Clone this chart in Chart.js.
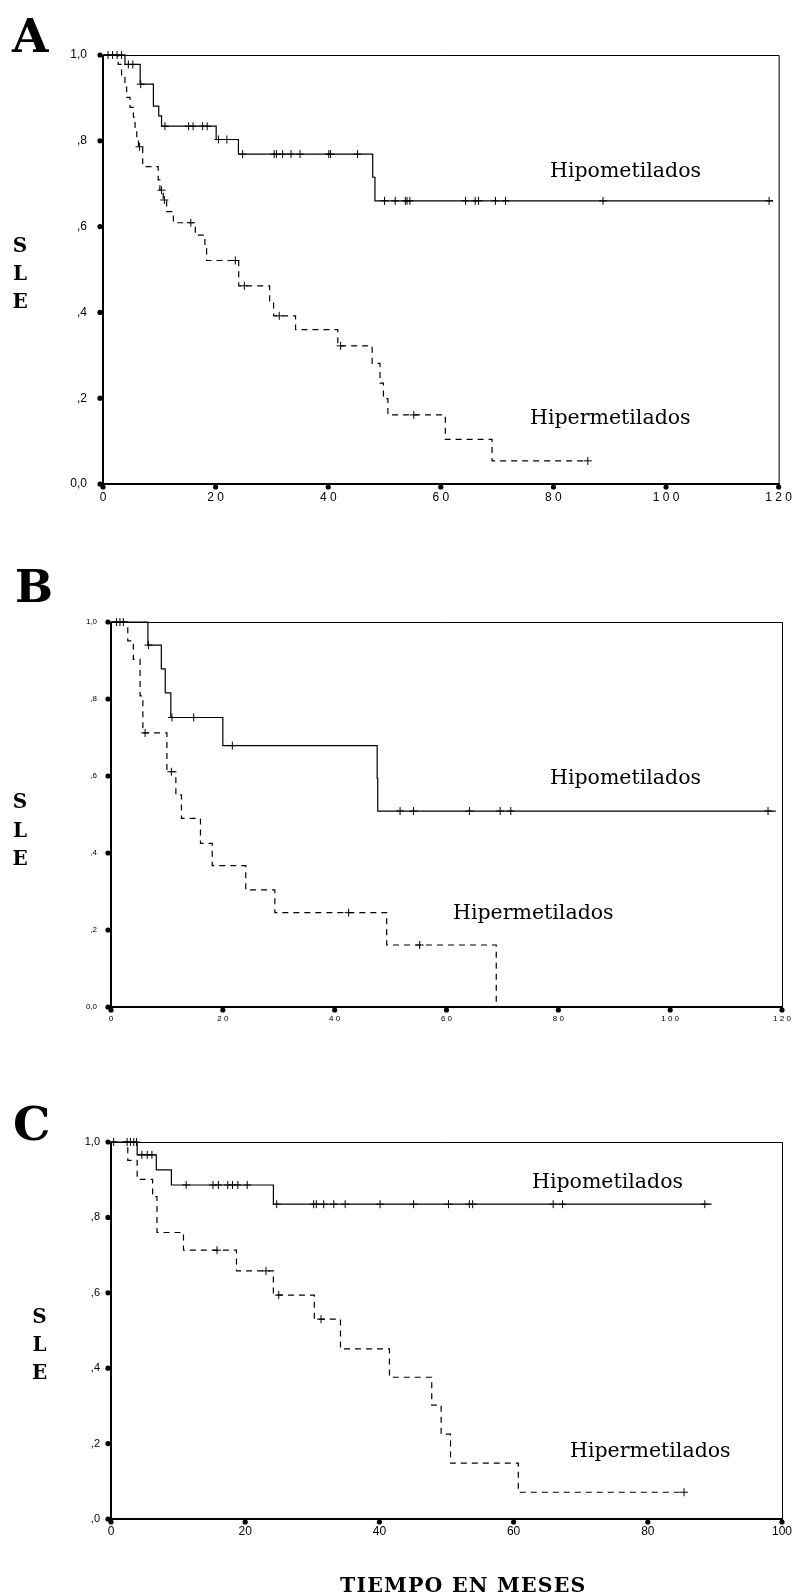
<!DOCTYPE html>
<html>
<head>
<meta charset="utf-8">
<script src="https://cdn.jsdelivr.net/npm/chart.js@4.4.1/dist/chart.umd.min.js"></script>
<style>
html,body{margin:0;padding:0;background:#fff;width:798px;height:1596px;overflow:hidden}
.p{position:absolute;left:0;width:798px;height:532px}
canvas{display:block}
</style>
</head>
<body>
<div class="p" style="top:0"><canvas id="cA" width="798" height="532"></canvas></div>
<div class="p" style="top:532px"><canvas id="cB" width="798" height="532"></canvas></div>
<div class="p" style="top:1064px"><canvas id="cC" width="798" height="532"></canvas></div>
<script>
// ---------- DATA (months, survival) ----------
// Panel A
const aHipoT   = [3.9, 6.6, 8.95, 9.9, 10.4, 20.1, 24.05, 47.9, 48.3];
const aHipoS   = [0.978, 0.932, 0.881, 0.858, 0.834, 0.803, 0.769, 0.715, 0.660];
const aHipoEnd = 119;
const aHipoCens = [0.9, 1.7, 2.5, 3.3, 4.5, 5.3, 6.7, 11.0, 15.2, 16.0, 17.7, 18.5, 20.5, 22.0, 24.8,
                   30.4, 30.8, 31.9, 33.4, 35.0, 40.1, 40.4, 45.2, 50.0, 51.9, 53.7, 54.0, 54.5,
                   64.4, 66.1, 66.7, 69.7, 71.5, 88.8, 118.3];
const aHiperT  = [2.7, 3.3, 3.9, 4.2, 4.8, 5.4, 5.7, 6.0, 6.3, 7.05, 9.8, 10.1, 10.7, 11.3, 12.5,
                  16.4, 18.1, 18.4, 24.1, 29.6, 30.3, 34.2, 41.7, 47.8, 49.2, 49.8, 50.6, 60.8, 69.1];
const aHiperS  = [0.978, 0.951, 0.925, 0.901, 0.878, 0.855, 0.831, 0.808, 0.786, 0.740, 0.709, 0.685,
                  0.662, 0.635, 0.609, 0.580, 0.549, 0.521, 0.462, 0.427, 0.392, 0.360, 0.322, 0.281,
                  0.235, 0.199, 0.161, 0.104, 0.054];
const aHiperEnd = 86.1;
const aHiperCens = [6.5, 10.4, 10.9, 15.6, 23.5, 25.1, 31.3, 42.2, 55.2, 86.1];

// Panel B
const bHipoT   = [6.6, 9.0, 9.7, 10.7, 20.0, 47.6, 47.7];
const bHipoS   = [0.940, 0.878, 0.816, 0.752, 0.679, 0.594, 0.509];
const bHipoEnd = 118.9;
const bHipoCens = [1.0, 1.6, 2.2, 6.7, 10.9, 14.8, 21.7, 51.7, 54.1, 64.1, 69.6, 71.5, 117.5];
const bHiperT  = [3.0, 4.0, 5.2, 5.7, 10.0, 11.6, 12.6, 16.0, 18.1, 24.1, 29.3, 49.3, 68.9];
const bHiperS  = [0.951, 0.903, 0.808, 0.712, 0.611, 0.551, 0.490, 0.425, 0.367, 0.304, 0.245, 0.161, 0.0];
const bHiperEnd = 68.9;
const bHiperCens = [6.1, 10.8, 42.5, 55.2];

// Panel C
const cHipoT   = [3.9, 6.75, 9.0, 24.2];
const cHipoS   = [0.966, 0.926, 0.886, 0.835];
const cHipoEnd = 89.5;
const cHipoCens = [0.4, 2.4, 2.9, 3.4, 3.8, 4.6, 5.4, 6.1, 11.2, 15.2, 16.0, 17.4, 18.1, 18.9, 20.3,
                   24.7, 30.2, 30.6, 31.7, 33.2, 34.9, 40.1, 45.1, 50.3, 53.4, 53.9, 65.9, 67.3, 88.5];
const cHiperT  = [2.5, 3.9, 6.2, 6.85, 10.8, 18.7, 24.2, 30.3, 34.2, 41.5, 47.8, 49.2, 50.6, 60.7];
const cHiperS  = [0.951, 0.901, 0.855, 0.760, 0.713, 0.658, 0.594, 0.530, 0.451, 0.376, 0.302, 0.225, 0.148, 0.071];
const cHiperEnd = 85.4;
const cHiperCens = [15.8, 23.1, 25.0, 31.3, 85.4];

// Tick labels
const yTicksAB = ['0,0', ',2', ',4', ',6', ',8', '1,0'];
const xTicksAB = ['0', '2 0', '4 0', '6 0', '8 0', '1 0 0', '1 2 0'];
const yTicksC  = [',0', ',2', ',4', ',6', ',8', '1,0'];
const xTicksC  = ['0', '20', '40', '60', '80', '100'];

const seriesNames = ['Hipometilados', 'Hipermetilados'];
const panelNames = ['A', 'B', 'C'];
const yTitle = ['S', 'L', 'E'];
const xTitle = 'TIEMPO EN MESES';

// ---------- helpers ----------
function kmPoints(times, surv, end) {
  const pts = [{x: 0, y: 1}];
  times.forEach((t, i) => pts.push({x: t, y: surv[i]}));
  pts.push({x: end, y: surv[surv.length - 1]});
  return pts;
}
function censPoints(times, surv, cens) {
  return cens.map(c => {
    let s = 1;
    times.forEach((t, i) => { if (t <= c) s = surv[i]; });
    return {x: c, y: s};
  });
}

const framePlugin = {
  id: 'frame',
  afterDatasetsDraw(chart, args, o) {
    const {ctx, chartArea: {left, top, right, bottom}, scales: {x, y}} = chart;
    ctx.save();
    ctx.strokeStyle = '#000';
    ctx.setLineDash([]);
    ctx.lineWidth = 1;
    ctx.beginPath();
    ctx.moveTo(left, top + 0.5); ctx.lineTo(right + 0.5, top + 0.5); ctx.lineTo(right + 0.5, bottom);
    ctx.stroke();
    ctx.lineWidth = 2;
    ctx.beginPath();
    ctx.moveTo(left, top); ctx.lineTo(left, bottom); ctx.lineTo(right + 1, bottom);
    ctx.stroke();
    ctx.fillStyle = '#000';
    y.ticks.forEach((t, i) => {
      ctx.beginPath(); ctx.arc(left - o.off, y.getPixelForTick(i), o.r, 0, Math.PI * 2); ctx.fill();
    });
    x.ticks.forEach((t, i) => {
      ctx.beginPath(); ctx.arc(x.getPixelForTick(i), bottom + o.off, o.r, 0, Math.PI * 2); ctx.fill();
    });
    ctx.restore();
  }
};

const textPlugin = {
  id: 'texts',
  afterDraw(chart, args, o) {
    const ctx = chart.ctx;
    ctx.save();
    ctx.fillStyle = '#000';
    ctx.textBaseline = 'alphabetic';
    (o.items || []).forEach(it => {
      ctx.font = it.font;
      ctx.textAlign = it.align || 'left';
      if ('letterSpacing' in ctx) ctx.letterSpacing = it.ls || '0px';
      ctx.fillText(it.text, it.x, it.y);
    });
    ctx.restore();
  }
};

function makeChart(id, d, L) {
  const hipoLine = {data: kmPoints(d.hipoT, d.hipoS, d.hipoEnd), showLine: true, stepped: 'before',
    borderColor: '#000', borderWidth: 1.2, pointRadius: 0, clip: false, order: 2};
  const hiperLine = {data: kmPoints(d.hiperT, d.hiperS, d.hiperEnd), showLine: true, stepped: 'before',
    borderColor: '#000', borderWidth: 1.2, borderDash: [6, 5], pointRadius: 0, clip: false, order: 2};
  const hipoC = {data: censPoints(d.hipoT, d.hipoS, d.hipoCens), showLine: false, pointStyle: 'cross',
    pointRadius: L.cr, borderColor: '#000', borderWidth: 1, clip: false, order: 1};
  const hiperC = {data: censPoints(d.hiperT, d.hiperS, d.hiperCens), showLine: false, pointStyle: 'cross',
    pointRadius: L.cr, borderColor: '#000', borderWidth: 1, clip: false, order: 1};
  return new Chart(document.getElementById(id), {
    type: 'scatter',
    data: {datasets: [hipoLine, hiperLine, hipoC, hiperC]},
    plugins: [framePlugin, textPlugin],
    options: {
      responsive: false, animation: false, events: [],
      layout: {padding: {left: L.left - 60, top: L.top, right: 798 - L.right, bottom: 532 - L.bottom - 30}},
      plugins: {
        legend: {display: false}, tooltip: {enabled: false},
        frame: {off: L.dotOff, r: L.dotR},
        texts: {items: L.texts}
      },
      scales: {
        x: {type: 'linear', min: 0, max: d.xMax,
          ticks: {stepSize: 20, autoSkip: false, maxRotation: 0, color: '#000', padding: L.xPad,
            font: {family: 'Liberation Sans, Arial, sans-serif', size: L.xFont},
            callback: (v, i) => d.xLabels[i]},
          grid: {display: false, drawTicks: false}, border: {display: false},
          afterFit: s => { s.height = 30; }},
        y: {type: 'linear', min: 0, max: 1,
          ticks: {stepSize: 0.2, autoSkip: false, color: '#000', padding: L.yPad,
            font: {family: 'Liberation Sans, Arial, sans-serif', size: L.yFont},
            callback: (v, i) => d.yLabels[i]},
          grid: {display: false, drawTicks: false}, border: {display: false},
          afterFit: s => { s.width = 60; }}
      }
    }
  });
}

const serif = "'DejaVu Serif', serif";
const labFont = '20.5px ' + serif;
const titleFont = 'bold 20px ' + serif;

makeChart('cA', {hipoT: aHipoT, hipoS: aHipoS, hipoEnd: aHipoEnd, hipoCens: aHipoCens,
  hiperT: aHiperT, hiperS: aHiperS, hiperEnd: aHiperEnd, hiperCens: aHiperCens,
  xMax: 120, xLabels: xTicksAB, yLabels: yTicksAB},
  {left: 103, top: 55, right: 779, bottom: 484, xPad: 6, yPad: 16, xFont: 12, yFont: 12,
   dotOff: 3, dotR: 2.6, cr: 4,
   texts: [
     {text: panelNames[0], x: 12, y: 52, font: 'bold 47px ' + serif},
     {text: yTitle[0], x: 20, y: 252, font: titleFont, align: 'center'},
     {text: yTitle[1], x: 20, y: 280, font: titleFont, align: 'center'},
     {text: yTitle[2], x: 20, y: 308, font: titleFont, align: 'center'},
     {text: seriesNames[0], x: 550, y: 177, font: labFont},
     {text: seriesNames[1], x: 530, y: 424, font: labFont}
   ]});

makeChart('cB', {hipoT: bHipoT, hipoS: bHipoS, hipoEnd: bHipoEnd, hipoCens: bHipoCens,
  hiperT: bHiperT, hiperS: bHiperS, hiperEnd: bHiperEnd, hiperCens: bHiperCens,
  xMax: 120, xLabels: xTicksAB, yLabels: yTicksAB},
  {left: 111, top: 90, right: 782, bottom: 475, xPad: 7, yPad: 14, xFont: 8, yFont: 8,
   dotOff: 3, dotR: 2.6, cr: 4,
   texts: [
     {text: panelNames[1], x: 15, y: 70, font: 'bold 45px ' + serif},
     {text: yTitle[0], x: 20, y: 276, font: titleFont, align: 'center'},
     {text: yTitle[1], x: 20, y: 305, font: titleFont, align: 'center'},
     {text: yTitle[2], x: 20, y: 333, font: titleFont, align: 'center'},
     {text: seriesNames[0], x: 550, y: 252, font: labFont},
     {text: seriesNames[1], x: 453, y: 387, font: labFont}
   ]});

makeChart('cC', {hipoT: cHipoT, hipoS: cHipoS, hipoEnd: cHipoEnd, hipoCens: cHipoCens,
  hiperT: cHiperT, hiperS: cHiperS, hiperEnd: cHiperEnd, hiperCens: cHiperCens,
  xMax: 100, xLabels: xTicksC, yLabels: yTicksC},
  {left: 111, top: 78, right: 782, bottom: 455, xPad: 5, yPad: 11, xFont: 12, yFont: 11,
   dotOff: 3, dotR: 2.6, cr: 4,
   texts: [
     {text: panelNames[2], x: 13, y: 76, font: 'bold 47px ' + serif},
     {text: yTitle[0], x: 39.5, y: 259, font: titleFont, align: 'center'},
     {text: yTitle[1], x: 39.5, y: 287, font: titleFont, align: 'center'},
     {text: yTitle[2], x: 39.5, y: 315, font: titleFont, align: 'center'},
     {text: seriesNames[0], x: 532, y: 124, font: labFont},
     {text: seriesNames[1], x: 570, y: 393, font: labFont},
     {text: xTitle, x: 340, y: 528, font: 'bold 20.5px ' + serif, ls: '1.2px'}
   ]});
</script>
</body>
</html>
